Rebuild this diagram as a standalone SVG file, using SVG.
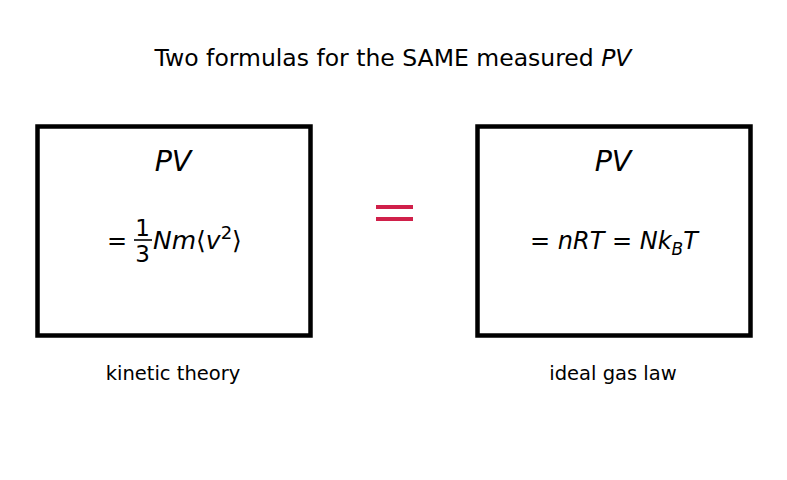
<svg xmlns="http://www.w3.org/2000/svg" width="787" height="480" viewBox="0 0 787 480">
<style>
text{font-family:"DejaVu Sans",sans-serif;fill:#000}
.box{fill:#fff;stroke:#000;stroke-width:4.5}
.it{font-style:italic}
.pv{font-size:28.5px;font-style:italic;text-anchor:middle}
.f{font-size:24px}
.lab{font-size:19.5px;text-anchor:middle}
</style>
<rect width="787" height="480" fill="#fff"/>
<text x="393" y="66" font-size="23.5" text-anchor="middle">Two formulas for the SAME measured <tspan class="it">PV</tspan></text>
<g id="kinetic">
<rect class="box" x="37.5" y="126.5" width="273" height="209"/>
<text class="pv" x="173" y="171">PV</text>
<text class="f" x="107" y="249">=</text>
<text x="142.5" y="236" font-size="23" text-anchor="middle">1</text>
<line x1="134" y1="240" x2="152" y2="240" stroke="#000" stroke-width="1.6"/>
<text x="142.5" y="262" font-size="23" text-anchor="middle">3</text>
<text x="153" y="249" font-size="25"><tspan class="it">Nm</tspan>⟨<tspan class="it">v</tspan><tspan font-size="18" dy="-10">2</tspan><tspan dy="10">⟩</tspan></text>
<text class="lab" x="173" y="380">kinetic theory</text>
</g>
<g id="ideal">
<rect class="box" x="477.5" y="126.5" width="273" height="209"/>
<text class="pv" x="613" y="171">PV</text>
<text class="f" x="530" y="249">= <tspan class="it">nRT</tspan> = <tspan class="it">Nk</tspan><tspan class="it" font-size="17" dy="6">B</tspan><tspan class="it" dy="-6">T</tspan></text>
<text class="lab" x="613" y="380">ideal gas law</text>
</g>
<g id="connectors">
<rect x="376" y="205" width="37" height="4" fill="#d0204a"/>
<rect x="376" y="217" width="37" height="4" fill="#d0204a"/>
</g>
</svg>
